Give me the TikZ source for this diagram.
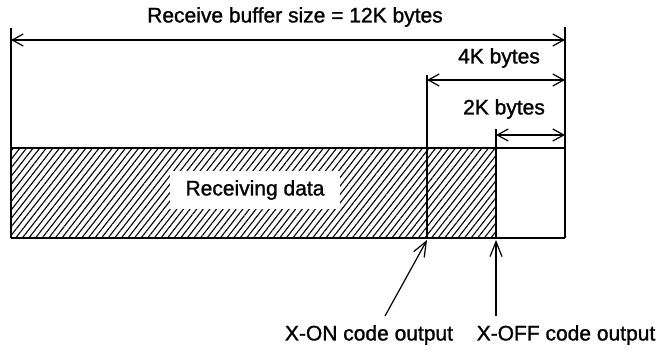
\documentclass[tikz,border=0pt]{standalone}
\usepackage{fontspec}
\setmainfont{Liberation Sans}
\newfontfamily\medfont{Liberation Sans}[FakeBold=1.2]
\usetikzlibrary{arrows.meta,patterns.meta}
\begin{document}
\begin{tikzpicture}[x=1pt,y=-1pt,
  lbl/.style={font=\medfont\fontsize{21}{25}\selectfont, inner sep=0pt},
  dimline/.style={line width=1.2pt, {Straight Barb[length=11pt,width=12pt]}-{Straight Barb[length=11pt,width=12pt]}},
  extline/.style={line width=1.4pt},
  boxline/.style={line width=2pt},
  ptr/.style={line width=1.2pt, -{Straight Barb[length=15pt,width=12pt]}},
]
\useasboundingbox (0,0) rectangle (660,351);
% coordinates
\coordinate (L0) at (11,28);
\coordinate (L1) at (11,238);
\coordinate (R0) at (565,27);
\coordinate (R1) at (565,238);
\coordinate (A0) at (427,75);
\coordinate (A1) at (427,238);
\coordinate (B0) at (496,129);
\coordinate (B1) at (496,238);
\coordinate (TL) at (11,148);
\coordinate (TR) at (565,148);
% hatched area
\fill[pattern={Lines[angle=52,distance=5.2pt,line width=1.1pt]}] (TL) rectangle (B1);
\node[lbl, fill=white, inner xsep=16pt, inner ysep=9pt] (rd) at (255,190) {Receiving data};
% box
\draw[boxline] (TL) -- (TR);
\draw[boxline] (L1) -- (R1);
% extension lines
\draw[extline] (L0) -- (L1);
\draw[extline] (R0) -- (R1);
\draw[extline] (A0) -- (A1);
\draw[extline] (B0) -- (B1);
% dimension lines
\coordinate (d1a) at (11,40);  \coordinate (d1b) at (565,40);
\coordinate (d2a) at (427,80); \coordinate (d2b) at (565,80);
\coordinate (d3a) at (496,135); \coordinate (d3b) at (565,135);
\draw[dimline] (d1a) -- (d1b);
\draw[dimline] (d2a) -- (d2b);
\draw[dimline] (d3a) -- (d3b);
% labels
\node[lbl] (t12) at (295,17) {Receive buffer size = 12K bytes};
\node[lbl] (t4) at (499,58) {4K bytes};
\node[lbl] (t2) at (504,109) {2K bytes};
\node[lbl] (xon) at (369,335) {X-ON code output};
\node[lbl] (xoff) at (566,335) {X-OFF code output};
% pointers
\coordinate (pon) at (385,316);
\coordinate (poff) at (496,316);
\coordinate (ton) at (427,240);
\coordinate (toff) at (496,240);
\draw[ptr] (pon) -- (ton);
\draw[ptr] (poff) -- (toff);
\end{tikzpicture}
\end{document}
